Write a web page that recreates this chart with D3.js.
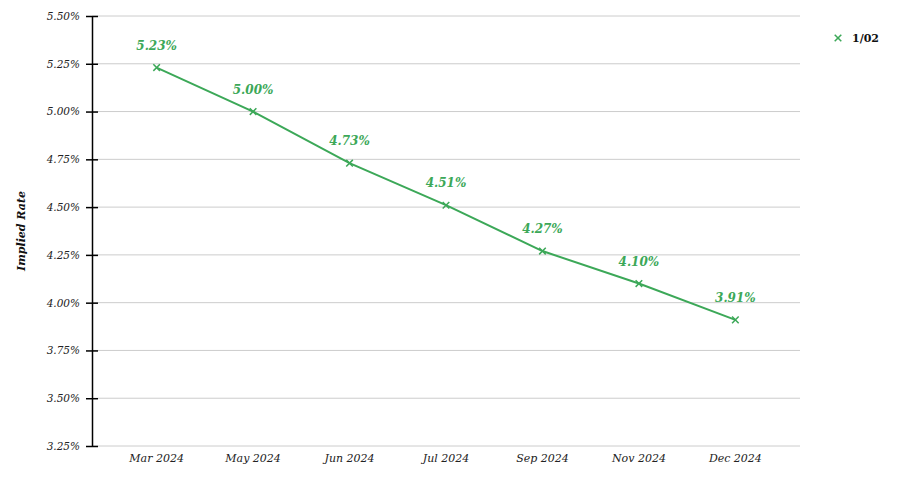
<!DOCTYPE html>
<html>
<head>
<meta charset="utf-8">
<script src="https://d3js.org/d3.v7.min.js"></script>
<style>
  body { margin: 0; background: #fff; }
  text { font-family: "DejaVu Serif", Georgia, serif; }
</style>
</head>
<body>
<div id="graph"></div>
<script>
// data
var months = ["Mar 2024", "May 2024", "Jun 2024", "Jul 2024", "Sep 2024", "Nov 2024", "Dec 2024"];
var rates = [5.23, 5.00, 4.73, 4.51, 4.27, 4.10, 3.91];
var yTicks = [3.25, 3.50, 3.75, 4.00, 4.25, 4.50, 4.75, 5.00, 5.25, 5.50];
var seriesName = "1/02";

var W = 900, H = 477;
var plotLeft = 92, plotRight = 800, plotTop = 16, plotBottom = 446;
var green = "#3ca858";

var svg = d3.select("#graph").append("svg")
  .attr("width", W).attr("height", H);

var x = d3.scalePoint().domain(months).range([plotLeft, plotRight]).padding(0.67);
var y = d3.scaleLinear().domain([3.25, 5.5]).range([plotBottom, plotTop]);

// gridlines
svg.append("g").selectAll("line").data(yTicks).enter().append("line")
  .attr("x1", plotLeft).attr("x2", plotRight)
  .attr("y1", function(d) { return y(d); }).attr("y2", function(d) { return y(d); })
  .attr("stroke", "#cccccc").attr("stroke-width", 1);

// y axis
var yAxis = svg.append("g")
  .attr("transform", "translate(" + plotLeft + ",0)")
  .call(d3.axisLeft(y).tickValues(yTicks).tickSizeInner(6).tickSizeOuter(0)
    .tickFormat(function(d) { return d.toFixed(2) + "%"; }));
yAxis.select(".domain").attr("stroke", "#000").attr("stroke-width", 1.5);
yAxis.selectAll(".tick line").attr("x2", 6).attr("x1", -6).attr("stroke", "#000").attr("stroke-width", 1.5);
yAxis.selectAll(".tick text").attr("x", -12)
  .style("font-family", "'DejaVu Serif', serif").style("font-style", "italic")
  .style("font-size", "10.5px").attr("fill", "#222");

// x labels
svg.append("g").selectAll("text").data(months).enter().append("text")
  .attr("x", function(d) { return x(d); })
  .attr("y", 462)
  .attr("text-anchor", "middle")
  .style("font-style", "italic").style("font-size", "11px").attr("fill", "#222")
  .text(function(d) { return d; });

// y title
svg.append("text")
  .attr("transform", "translate(25," + ((plotTop + plotBottom) / 2) + ") rotate(-90)")
  .attr("text-anchor", "middle")
  .style("font-style", "italic").style("font-weight", "bold").style("font-size", "11px")
  .attr("fill", "#111")
  .text("Implied Rate");

// line
var pts = months.map(function(m, i) { return [x(m), y(rates[i])]; });
svg.append("path")
  .datum(pts)
  .attr("d", d3.line())
  .attr("fill", "none").attr("stroke", green).attr("stroke-width", 2);

// markers
var cross = d3.symbol().type(d3.symbolX).size(30);
svg.append("g").selectAll("path").data(pts).enter().append("path")
  .attr("d", cross)
  .attr("transform", function(d) { return "translate(" + d[0] + "," + d[1] + ")"; })
  .attr("fill", "none").attr("stroke", green).attr("stroke-width", 1.5);

// value labels
svg.append("g").selectAll("text").data(rates).enter().append("text")
  .attr("x", function(d, i) { return x(months[i]); })
  .attr("y", function(d) { return y(d) - 18; })
  .attr("text-anchor", "middle")
  .style("font-style", "italic").style("font-weight", "bold").style("font-size", "12px")
  .attr("fill", green)
  .text(function(d) { return d.toFixed(2) + "%"; });

// legend
svg.append("path")
  .attr("d", cross)
  .attr("transform", "translate(838,38)")
  .attr("fill", "none").attr("stroke", green).attr("stroke-width", 1.5);
svg.append("text")
  .attr("x", 852).attr("y", 42)
  .style("font-weight", "bold").style("font-size", "11px").attr("fill", "#111")
  .text(seriesName);
</script>
</body>
</html>
